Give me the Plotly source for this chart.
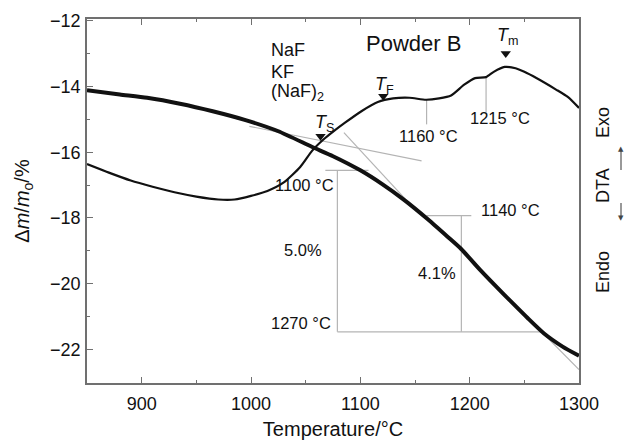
import plotly.graph_objects as go

# ---- data ----
tg_temp = [850, 880, 905, 935, 965, 995, 1025, 1056, 1075, 1100, 1120, 1140, 1162,
           1180, 1192, 1210, 1223, 1240, 1253, 1268, 1285, 1300]
tg_mass = [-14.11, -14.24, -14.34, -14.52, -14.75, -15.02, -15.36, -15.84, -16.12,
           -16.55, -16.97, -17.45, -18.05, -18.58, -18.94, -19.60, -20.05, -20.62,
           -21.05, -21.52, -21.92, -22.20]

dta_temp = [850, 870, 890, 910, 930, 950, 970, 985, 1000, 1015, 1030, 1045, 1056,
            1066, 1076, 1086, 1101, 1116, 1130, 1145, 1160, 1172, 1183, 1195, 1205,
            1215, 1222, 1232, 1242, 1250, 1261, 1279, 1290, 1300]
dta_signal = [-16.36, -16.62, -16.86, -17.05, -17.22, -17.35, -17.44, -17.44, -17.33,
              -17.18, -16.92, -16.45, -15.95, -15.62, -15.35, -15.10, -14.75, -14.47,
              -14.36, -14.34, -14.40, -14.36, -14.27, -13.94, -13.74, -13.71, -13.55,
              -13.40, -13.44, -13.55, -13.74, -14.09, -14.32, -14.65]

# construction (tangent / step) lines: (x0, y0, x1, y1)
guide_lines = [
    (998.5, -15.21, 1156, -16.26),
    (1085, -15.40, 1141, -17.42),
    (1240, -20.60, 1300, -22.62),
    (1068, -16.55, 1107.5, -16.55),
    (1079, -16.55, 1079, -21.47),
    (1079, -21.47, 1268, -21.47),
    (1160.5, -17.93, 1201.5, -17.93),
    (1192.4, -17.93, 1192.4, -21.47),
    (1160.6, -14.39, 1160.6, -15.15),
    (1215, -13.71, 1215, -14.79),
]

marker_temp = [1063.6, 1121, 1233]
marker_val = [-15.51, -14.29, -12.99]
marker_text = ["<i>T</i><sub>S</sub>", "<i>T</i><sub>F</sub>", "<i>T</i><sub>m</sub>"]
marker_text_pos = [(1067.5, -15.12), (1122.5, -13.97), (1234.8, -12.48)]

# text labels: (text, x, y, xanchor)
labels = [
    ("1100 °C", 1077.8, -17.00, "right"),
    ("5.0%", 1066.6, -18.99, "right"),
    ("1270 °C", 1074.8, -21.21, "right"),
    ("1160 °C", 1162.1, -15.51, "center"),
    ("1215 °C", 1227.3, -14.95, "center"),
    ("1140 °C", 1237.1, -17.76, "center"),
    ("4.1%", 1170.3, -19.67, "center"),
]
species = ["NaF", "KF", "(NaF)<sub>2</sub>"]
species_y = [-12.88, -13.54, -14.18]

x_ticks = [900, 1000, 1100, 1200, 1300]
y_ticks = [-22, -20, -18, -16, -14, -12]

FONT = "Liberation Sans, Arial, Helvetica, sans-serif"
GRAY = "#b4b4b4"
AX = "#707070"

fig = go.Figure()

for (x0, y0, x1, y1) in guide_lines:
    fig.add_trace(go.Scatter(x=[x0, x1], y=[y0, y1], mode="lines",
                             line=dict(color=GRAY, width=1.2),
                             hoverinfo="skip", showlegend=False))

fig.add_trace(go.Scatter(x=dta_temp, y=dta_signal, mode="lines",
                         line=dict(color="#111111", width=2.2, shape="spline", smoothing=0.6),
                         showlegend=False))
fig.add_trace(go.Scatter(x=tg_temp, y=tg_mass, mode="lines",
                         line=dict(color="#111111", width=4, shape="spline", smoothing=0.6),
                         showlegend=False))
fig.add_trace(go.Scatter(x=marker_temp, y=marker_val, mode="markers",
                         marker=dict(symbol="triangle-down", size=9, color="#111111"),
                         showlegend=False))

ann = []
for t, (x, y) in zip(marker_text, marker_text_pos):
    ann.append(dict(x=x, y=y, xref="x", yref="y", text=t, showarrow=False,
                    font=dict(family=FONT, size=18, color="#111")))
for t, x, y, xa in labels:
    ann.append(dict(x=x, y=y, xref="x", yref="y", text=t, showarrow=False,
                    xanchor=xa, font=dict(family=FONT, size=16.5, color="#111")))
for t, y in zip(species, species_y):
    ann.append(dict(x=1016.6, y=y, xref="x", yref="y", text=t, showarrow=False,
                    xanchor="left", font=dict(family=FONT, size=18, color="#111")))
ann.append(dict(x=1148.5, y=-12.68, xref="x", yref="y", text="Powder B", showarrow=False,
                font=dict(family=FONT, size=22, color="#111")))

# plot area in page pixels: x 87..579, y 19..383
def px(sx):
    return (sx - 87) / 492


def py(sy):
    return (383 - sy) / 364


for t, sy in [("Exo", 123), ("DTA", 186), ("Endo", 272)]:
    ann.append(dict(x=px(603), y=py(sy), xref="paper", yref="paper", text=t,
                    showarrow=False, xanchor="center", yanchor="middle",
                    textangle=-90, font=dict(family=FONT, size=18, color="#111")))

# DTA direction arrows at the right edge: stems as shapes, heads as glyphs
AX_X = px(621)
shapes = [
    dict(type="line", xref="paper", yref="paper", x0=AX_X, x1=AX_X,
         y0=py(170), y1=py(151), line=dict(color="#555", width=1.2)),
    dict(type="line", xref="paper", yref="paper", x0=AX_X, x1=AX_X,
         y0=py(203), y1=py(216), line=dict(color="#555", width=1.2)),
]
ann.append(dict(x=AX_X, y=py(149), xref="paper", yref="paper", text="▲",
                showarrow=False, xanchor="center", yanchor="middle",
                font=dict(family="DejaVu Sans", size=7, color="#444")))
ann.append(dict(x=AX_X, y=py(218), xref="paper", yref="paper", text="▼",
                showarrow=False, xanchor="center", yanchor="middle",
                font=dict(family="DejaVu Sans", size=7, color="#444")))

fig.update_layout(
    width=625, height=440,
    margin=dict(l=87, r=46, t=19, b=57, autoexpand=False),
    paper_bgcolor="white", plot_bgcolor="white",
    annotations=ann, shapes=shapes,
    font=dict(family=FONT, size=18, color="#111"),
    xaxis=dict(range=[850, 1300], tickvals=x_ticks, ticks="inside", ticklen=6,
               tickcolor=AX, tickwidth=1.2, showline=True, linecolor=AX, linewidth=1.5,
               mirror="ticks", showgrid=False, zeroline=False, ticklabelstandoff=4,
               automargin=False,
               tickfont=dict(family=FONT, size=18, color="#111"),
               minor=dict(dtick=50, ticks="inside", ticklen=3, tickcolor=AX, tickwidth=1.2),
               title=dict(text="Temperature/°C", font=dict(family=FONT, size=20, color="#111"),
                          standoff=12)),
    yaxis=dict(range=[-23.03, -11.94], tickvals=y_ticks, ticks="inside", ticklen=6,
               tickcolor=AX, tickwidth=1.2, showline=True, linecolor=AX, linewidth=1.5,
               mirror=True, showgrid=False, zeroline=False, ticklabelstandoff=1,
               automargin=False,
               tickfont=dict(family=FONT, size=18, color="#111"),
               minor=dict(dtick=1, ticks="inside", ticklen=3, tickcolor=AX, tickwidth=1.2),
               title=dict(text="Δ<i>m</i>/<i>m</i><sub>o</sub>/%",
                          font=dict(family=FONT, size=20, color="#111"), standoff=15)),
)

fig.write_html("out.html",
               config={"displayModeBar": False},
               post_script="document.body.style.margin='0';"
                           "document.body.style.overflow='hidden';")
